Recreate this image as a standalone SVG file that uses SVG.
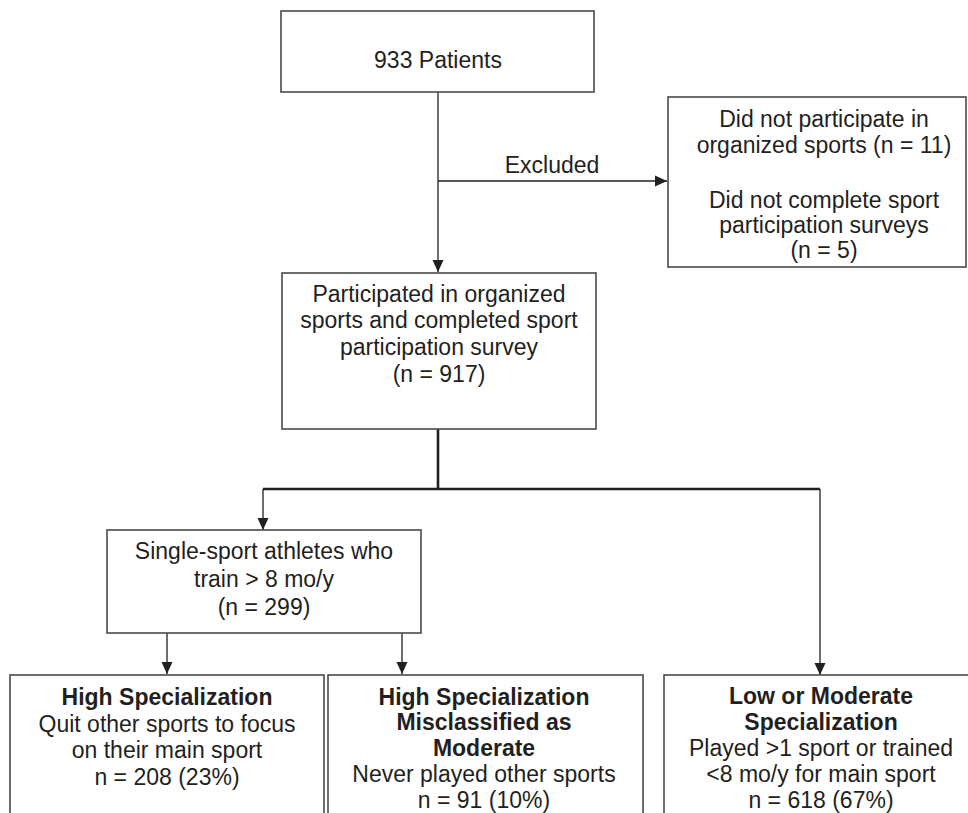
<svg xmlns="http://www.w3.org/2000/svg" width="968" height="813" viewBox="0 0 968 813">
<style>
.box{fill:#fff;stroke:#4a4a4a;stroke-width:1.6}
.ln{fill:none;stroke:#231f20;stroke-width:1.3}
.thick{fill:none;stroke:#231f20;stroke-width:2.6}
text{font-family:"Liberation Sans",Arial,sans-serif;font-size:23px;fill:#231f20;text-anchor:middle}
.b{font-weight:bold}
</style>
<defs>
<marker id="ah" markerUnits="userSpaceOnUse" markerWidth="12" markerHeight="12" viewBox="0 0 12 12" refX="12" refY="6" orient="auto">
<path d="M0,0.5 L12,6 L0,11.5 Z" fill="#231f20"/>
</marker>
</defs>
<rect width="968" height="813" fill="#fff"/>
<g id="connectors">
<line class="ln" x1="438" y1="92" x2="438" y2="272" marker-end="url(#ah)"/>
<line class="ln" x1="438" y1="181" x2="667" y2="181" marker-end="url(#ah)"/>
<line class="thick" x1="438" y1="429" x2="438" y2="489"/>
<polyline class="thick" points="263,489 820,489"/>
<line class="ln" x1="263" y1="489" x2="263" y2="530" marker-end="url(#ah)"/>
<line class="ln" x1="820" y1="489" x2="820" y2="675" marker-end="url(#ah)"/>
<line class="ln" x1="167" y1="633" x2="167" y2="674" marker-end="url(#ah)"/>
<line class="ln" x1="402" y1="633" x2="402" y2="674" marker-end="url(#ah)"/>
<text x="552" y="173">Excluded</text>
</g>
<g id="patients">
<rect class="box" x="281" y="11" width="313" height="81"/>
<text x="438" y="68">933 Patients</text>
</g>
<g id="excluded">
<rect class="box" x="668" y="97" width="298" height="170"/>
<text x="824" y="127">Did not participate in</text>
<text x="824" y="153">organized sports (n = 11)</text>
<text x="824" y="208">Did not complete sport</text>
<text x="824" y="233">participation surveys</text>
<text x="824" y="258">(n = 5)</text>
</g>
<g id="participated">
<rect class="box" x="282" y="273" width="314" height="156"/>
<text x="439" y="302">Participated in organized</text>
<text x="439" y="328">sports and completed sport</text>
<text x="439" y="355">participation survey</text>
<text x="439" y="382">(n = 917)</text>
</g>
<g id="single">
<rect class="box" x="107" y="530" width="314" height="103"/>
<text x="264" y="559">Single-sport athletes who</text>
<text x="264" y="587">train &gt; 8 mo/y</text>
<text x="264" y="615">(n = 299)</text>
</g>
<g id="high">
<rect class="box" x="10" y="675" width="314" height="150"/>
<text class="b" x="167" y="705">High Specialization</text>
<text x="167" y="732">Quit other sports to focus</text>
<text x="167" y="758">on their main sport</text>
<text x="167" y="785">n = 208 (23%)</text>
</g>
<g id="misclassified">
<rect class="box" x="328" y="675" width="315" height="150"/>
<text class="b" x="484" y="705">High Specialization</text>
<text class="b" x="484" y="730">Misclassified as</text>
<text class="b" x="484" y="756">Moderate</text>
<text x="484" y="782">Never played other sports</text>
<text x="484" y="808">n = 91 (10%)</text>
</g>
<g id="low">
<rect class="box" x="664" y="675" width="320" height="150"/>
<text class="b" x="821" y="704">Low or Moderate</text>
<text class="b" x="821" y="730">Specialization</text>
<text x="821" y="756">Played &gt;1 sport or trained</text>
<text x="821" y="782">&lt;8 mo/y for main sport</text>
<text x="821" y="808">n = 618 (67%)</text>
</g>
</svg>
